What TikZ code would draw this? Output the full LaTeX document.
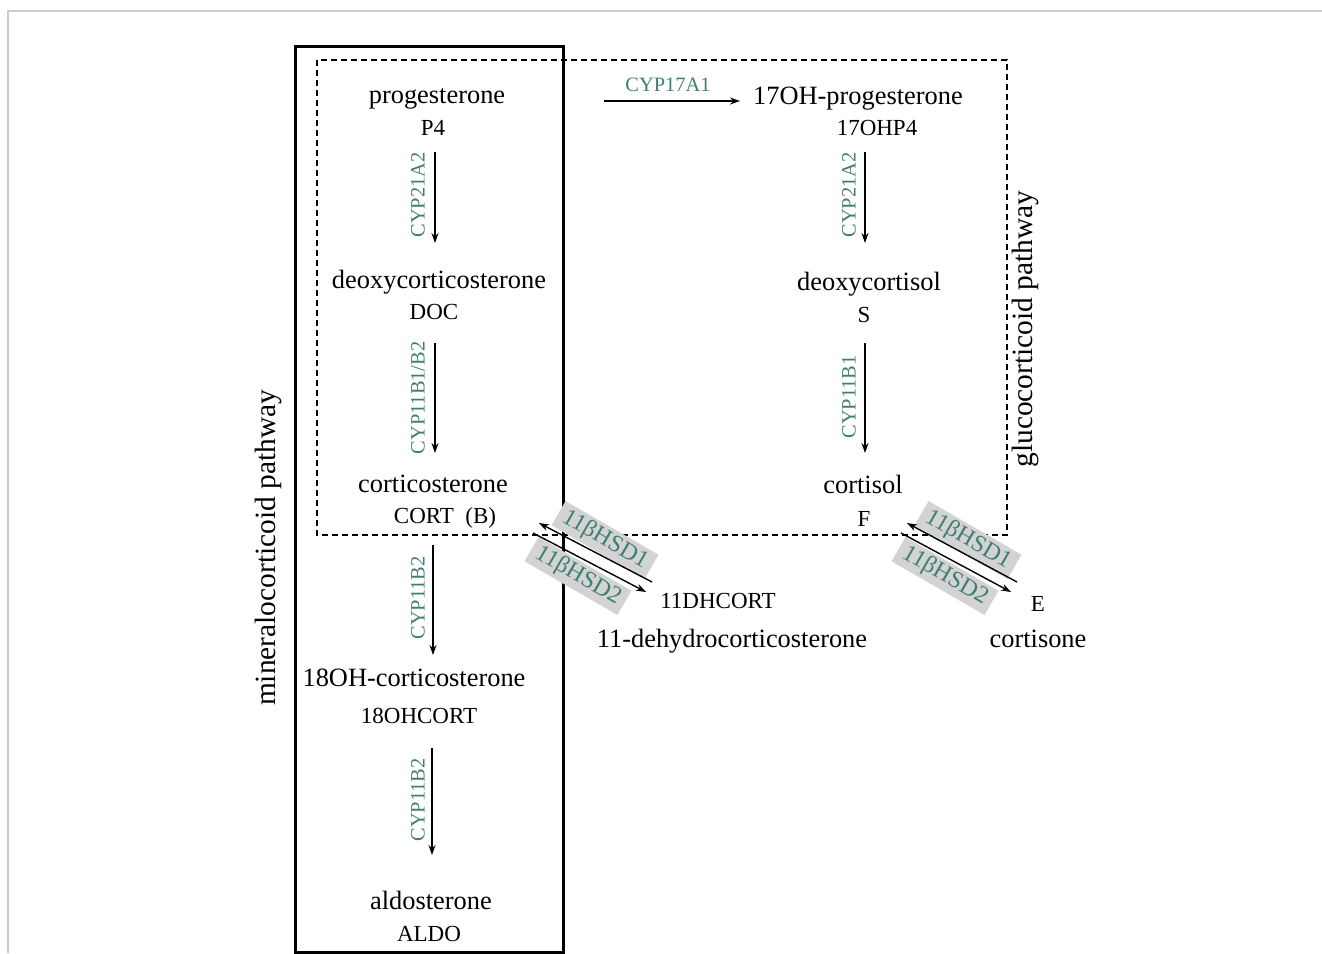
\documentclass[tikz,border=0pt]{standalone}
\usepackage{fontspec}
\setmainfont{Liberation Serif}
\usetikzlibrary{arrows.meta,calc}
\definecolor{enzteal}{RGB}{63,127,115}
\definecolor{hsdgray}{RGB}{211,211,211}
\tikzset{
	cmpd/.style={font=\fontsize{13.2}{14}\selectfont, inner sep=0pt},
	abbr/.style={font=\fontsize{11.5}{13}\selectfont, inner sep=0pt},
	enz/.style={font=\fontsize{10.2}{12}\selectfont, text=enzteal, inner sep=0pt},
	enzv/.style={enz, rotate=90},
	hsd/.style={enz, font=\fontsize{12}{13}\selectfont, fill=hsdgray, inner xsep=3pt, inner ysep=1.5pt, rotate=-30},
	flow/.style={-{Stealth[length=5pt,width=3.5pt]}, line width=0.7pt},
	pathway/.style={font=\fontsize{14.7}{16}\selectfont, rotate=90, inner sep=0pt}
}

\begin{document}
\begin{tikzpicture}[x=0.5pt,y=-0.5pt]
			%%%%% START %%%%%
			\useasboundingbox (0,0) rectangle (1322,953);
			\draw[black!20, line width=0.6pt] (8,953) -- (8,11) -- (1322,11);
			
			% pathway boxes
			\draw[line width=1.5pt] (295,46) rectangle (563,952);
			\draw[line width=1.4pt, dash pattern=on 3pt off 2pt] (317,60) rectangle (1007,535);
			\node[pathway] (mineral) at (268,548) {mineralocorticoid pathway};
			\node[pathway] (gluco) at (1025,329) {glucocorticoid pathway};
			
			% compounds
			\node[cmpd] (prog) at (437,99) {progesterone};
			\node[abbr] (P4) at (433,128) {P4};
			\node[cmpd] (ohprog) at (858,99) {17OH-progesterone};
			\node[abbr] (OHP4) at (877,128) {17OHP4};
			\node[cmpd] (doc) at (439,282) {deoxycorticosterone};
			\node[abbr] (DOC) at (434,312) {DOC};
			\node[cmpd] (cort) at (433,484) {corticosterone};
			\node[abbr] (CORT) at (445,518) {CORT\ \ (B)};
			\node[cmpd] (ohcort) at (414,678) {18OH-corticosterone};
			\node[abbr] (OHCORT) at (419,716) {18OHCORT};
			\node[cmpd] (aldo) at (431,900) {aldosterone};
			\node[abbr] (ALDO) at (429,934) {ALDO};
			\node[cmpd] (dcol) at (869,284) {deoxycortisol};
			\node[abbr] (S) at (864,315) {S};
			\node[cmpd] (cortisol) at (863,484) {cortisol};
			\node[abbr] (F) at (864,519) {F};
			\node[abbr] (DHC) at (718,601) {11DHCORT};
			\node[cmpd] (dhc) at (732,641) {11-dehydrocorticosterone};
			\node[abbr] (E) at (1038,604) {E};
			\node[cmpd] (cortisone) at (1038,639) {cortisone};
			
			% enzyme steps
			\draw[flow] ($(prog)+(167,2)$) -- ($(ohprog)+(-118,2)$);
			\node[enz] (cyp17) at (668,85) {CYP17A1};
			
			\draw[flow] ($(P4)+(2,24)$) -- ($(doc)+(-4,-39)$);
			\node[enzv] (cyp21a) at (418,195) {CYP21A2};
			\draw[flow] ($(DOC)+(1,31)$) -- ($(cort)+(2,-31)$);
			\node[enzv] (cyp11a) at (418,398) {CYP11B1/B2};
			\draw[flow] ($(CORT)+(-12,27)$) -- ($(ohcort)+(19,-23)$);
			\node[enzv] (cyp11b) at (418,598) {CYP11B2};
			\draw[flow] ($(OHCORT)+(13,32)$) -- ($(aldo)+(1,-45)$);
			\node[enzv] (cyp11c) at (418,800) {CYP11B2};
			
			\draw[flow] ($(OHP4)+(-12,24)$) -- ($(dcol)+(-4,-41)$);
			\node[enzv] (cyp21b) at (849,195) {CYP21A2};
			\draw[flow] ($(S)+(1,28)$) -- ($(cortisol)+(2,-31)$);
			\node[enzv] (cyp11d) at (849,397) {CYP11B1};
			
			% 11bHSD exchange
			\node[hsd] (hsdA) at (605,540) {11βHSD1};
			\node[hsd] (hsdB) at (578,576) {11βHSD2};
			\draw[flow] ($(DHC)+(-66,-19)$) -- ($(CORT)+(94,5)$);
			\draw[flow] ($(CORT)+(88,15)$) -- ($(DHC)+(-72,-9)$);
			
			\node[hsd] (hsdC) at (968,540) {11βHSD1};
			\node[hsd] (hsdD) at (945,576) {11βHSD2};
			\draw[flow] ($(E)+(-21,-22)$) -- ($(F)+(43,4)$);
			\draw[flow] ($(F)+(37,14)$) -- ($(E)+(-27,-12)$);
			%%%%% END %%%%%
\end{tikzpicture}
\end{document}
